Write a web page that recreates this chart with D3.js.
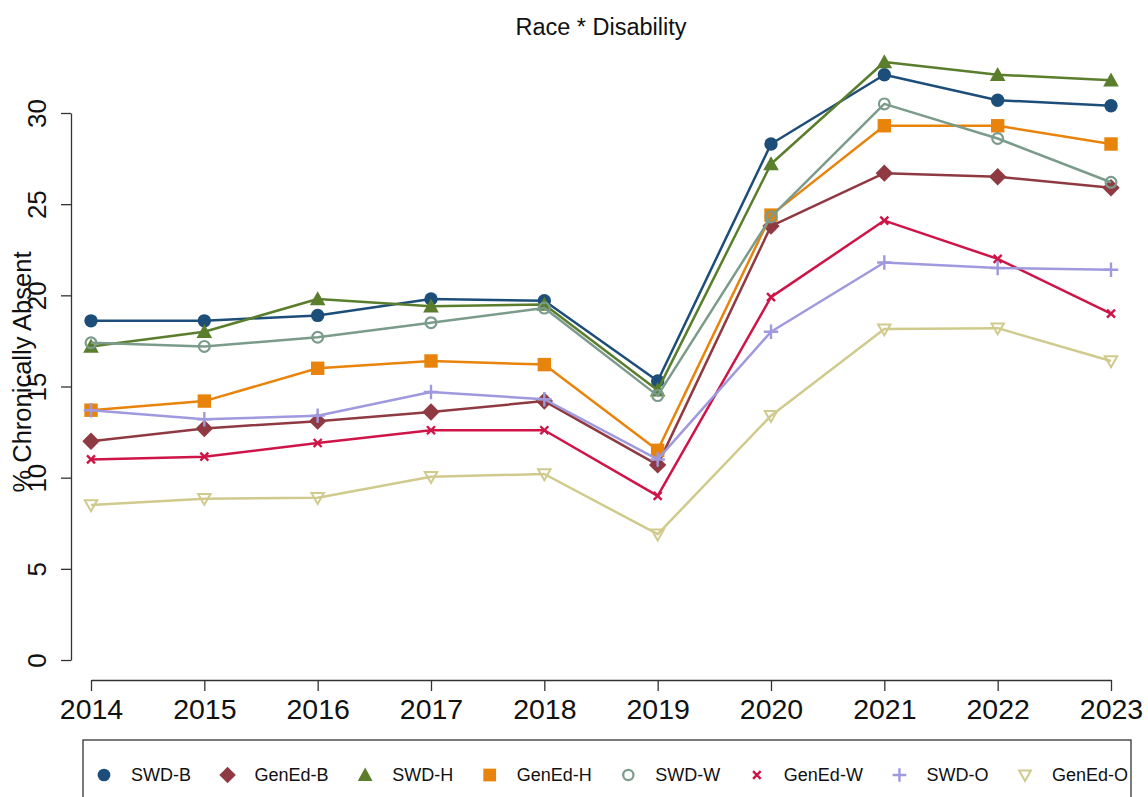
<!DOCTYPE html>
<html>
<head>
<meta charset="utf-8">
<script src="https://cdn.jsdelivr.net/npm/d3@7/dist/d3.min.js"></script>
<style>
  html, body { margin: 0; padding: 0; background: #fff; }
  svg { display: block; font-family: "Liberation Sans", Arial, Helvetica, sans-serif; }
</style>
</head>
<body>
<svg id="chart" width="1148" height="797"></svg>
<script>
// Chronic absence rates by race and disability status, 2014–2023
const years = [2014, 2015, 2016, 2017, 2018, 2019, 2020, 2021, 2022, 2023];
const seriesNames = ["SWD-B", "GenEd-B", "SWD-H", "GenEd-H", "SWD-W", "GenEd-W", "SWD-O", "GenEd-O"];

const swdB   = [18.6, 18.6, 18.9, 19.8, 19.7, 15.3, 28.3, 32.1, 30.7, 30.4];
const genEdB = [12.0, 12.7, 13.1, 13.6, 14.2, 10.7, 23.8, 26.7, 26.5, 25.9];
const swdH   = [17.2, 18.0, 19.8, 19.4, 19.5, 14.8, 27.2, 32.8, 32.1, 31.8];
const genEdH = [13.7, 14.2, 16.0, 16.4, 16.2, 11.5, 24.4, 29.3, 29.3, 28.3];
const swdW   = [17.4, 17.2, 17.7, 18.5, 19.3, 14.5, 24.3, 30.5, 28.6, 26.2];
const genEdW = [11.0, 11.15, 11.9, 12.6, 12.6, 9.0, 19.9, 24.1, 22.0, 19.0];
const swdO   = [13.7, 13.2, 13.4, 14.7, 14.3, 11.0, 18.0, 21.8, 21.5, 21.4];
const genEdO = [8.5, 8.85, 8.9, 10.05, 10.2, 6.9, 13.4, 18.15, 18.2, 16.4];

const yTicks = [0, 5, 10, 15, 20, 25, 30];

const seriesValues = [swdB, genEdB, swdH, genEdH, swdW, genEdW, swdO, genEdO];
const colors = ["#1D4E7A", "#8F3A42", "#5A7E2C", "#E8830C", "#7B9B8B", "#CF1548", "#9F99DE", "#D1CA8D"];
const shapes = ["dot", "diamond", "triangle", "square", "ring", "cross", "plus", "downTriangle"];

const svg = d3.select("#chart");

const x = d3.scaleLinear().domain([years[0], years[years.length - 1]]).range([91, 1111]);
const y = d3.scaleLinear().domain([0, 30]).range([660, 113]);

// Title
svg.append("text")
  .attr("x", 601).attr("y", 35)
  .attr("text-anchor", "middle")
  .attr("font-size", 23.5)
  .attr("fill", "#111")
  .text("Race * Disability");

// Y axis (base R style: axis line spans first to last tick, rotated labels)
const yAxis = svg.append("g")
  .attr("transform", "translate(71,0)")
  .call(d3.axisLeft(y).tickValues(yTicks).tickSize(10).tickSizeOuter(0).tickFormat(d3.format("d")));
yAxis.selectAll("path, line").attr("stroke", "#333").attr("stroke-width", 1.3);
yAxis.selectAll("text")
  .attr("font-size", 26)
  .attr("fill", "#111")
  .attr("text-anchor", "middle")
  .attr("dy", null)
  .attr("x", null)
  .attr("dominant-baseline", "central")
  .attr("transform", "translate(-34,0) rotate(-90)");

// X axis
const xAxis = svg.append("g")
  .attr("transform", "translate(0,680)")
  .call(d3.axisBottom(x).tickValues(years).tickSize(11).tickSizeOuter(0).tickFormat(d3.format("d")));
xAxis.selectAll("path, line").attr("stroke", "#333").attr("stroke-width", 1.3);
xAxis.selectAll("text")
  .attr("font-size", 28.5)
  .attr("fill", "#111")
  .attr("y", 19)
  .attr("dy", "0.71em");

// Y axis title
svg.append("text")
  .attr("transform", "translate(31,372) rotate(-90)")
  .attr("text-anchor", "middle")
  .attr("font-size", 25.5)
  .attr("fill", "#111")
  .text("% Chronically Absent");

// Marker drawing
function drawMarker(g, shape, color, cx, cy, scale) {
  const s = scale || 1;
  switch (shape) {
    case "dot":
      g.append("circle").attr("cx", cx).attr("cy", cy).attr("r", 6.7 * s).attr("fill", color);
      break;
    case "diamond": {
      const r = 8.7 * s;
      g.append("path").attr("d", `M${cx},${cy - r}L${cx + r},${cy}L${cx},${cy + r}L${cx - r},${cy}Z`).attr("fill", color);
      break;
    }
    case "triangle": {
      const h = 7.8 * s;
      g.append("path").attr("d", `M${cx},${cy - h}L${cx + h},${cy + h * 0.8}L${cx - h},${cy + h * 0.8}Z`).attr("fill", color);
      break;
    }
    case "square": {
      const r = 6.7 * s;
      g.append("rect").attr("x", cx - r).attr("y", cy - r).attr("width", 2 * r).attr("height", 2 * r).attr("fill", color);
      break;
    }
    case "ring":
      g.append("circle").attr("cx", cx).attr("cy", cy).attr("r", 5.4 * s)
        .attr("fill", "none").attr("stroke", color).attr("stroke-width", 2.2);
      break;
    case "cross": {
      const r = 4 * s;
      g.append("path").attr("d", `M${cx - r},${cy - r}L${cx + r},${cy + r}M${cx - r},${cy + r}L${cx + r},${cy - r}`)
        .attr("stroke", color).attr("stroke-width", 2.4).attr("fill", "none");
      break;
    }
    case "plus": {
      const r = 7.2 * s;
      g.append("path").attr("d", `M${cx - r},${cy}L${cx + r},${cy}M${cx},${cy - r}L${cx},${cy + r}`)
        .attr("stroke", color).attr("stroke-width", 2.4).attr("fill", "none");
      break;
    }
    case "downTriangle": {
      const h = 6.2 * s;
      g.append("path").attr("d", `M${cx},${cy + h}L${cx + h},${cy - h * 0.75}L${cx - h},${cy - h * 0.75}Z`)
        .attr("stroke", color).attr("stroke-width", 2).attr("fill", "none");
      break;
    }
  }
}

// Series lines and markers
const line = d3.line().x((d, i) => x(years[i])).y(d => y(d));
seriesValues.forEach((vals, k) => {
  const g = svg.append("g");
  g.append("path")
    .attr("d", line(vals))
    .attr("fill", "none")
    .attr("stroke", colors[k])
    .attr("stroke-width", 2.5)
    .attr("stroke-linejoin", "round");
  vals.forEach((v, i) => drawMarker(g, shapes[k], colors[k], x(years[i]), y(v)));
});

// Legend: one horizontal row inside a box, entries spaced by their label widths;
// text running past the right edge is clipped by the box
const legendLeft = 83, legendRight = 1131, legendTop = 740;
svg.append("defs").append("clipPath").attr("id", "legendClip")
  .append("rect").attr("x", legendLeft).attr("y", legendTop).attr("width", legendRight - legendLeft).attr("height", 100);
const legend = svg.append("g");
const legendItems = legend.append("g").attr("clip-path", "url(#legendClip)");
const ly = 775;
const legendFont = 18;
const firstMarker = 104, lastMarker = 1025, textOffset = 27;
const widths = seriesNames.map(n => {
  const t = legendItems.append("text").attr("font-size", legendFont).text(n);
  const w = t.node().getComputedTextLength();
  t.remove();
  return w;
});
const sumW = d3.sum(widths.slice(0, seriesNames.length - 1));
const gap = (lastMarker - firstMarker - (seriesNames.length - 1) * textOffset - sumW) / (seriesNames.length - 1);
let mx = firstMarker;
seriesNames.forEach((n, k) => {
  drawMarker(legendItems, shapes[k], colors[k], mx, ly, 0.95);
  legendItems.append("text")
    .attr("x", mx + textOffset).attr("y", ly)
    .attr("dominant-baseline", "central")
    .attr("font-size", legendFont)
    .attr("fill", "#111")
    .text(n);
  mx += textOffset + widths[k] + gap;
});
legend.append("rect")
  .attr("x", legendLeft).attr("y", legendTop)
  .attr("width", legendRight - legendLeft).attr("height", 80)
  .attr("fill", "none").attr("stroke", "#333").attr("stroke-width", 1.3);
</script>
</body>
</html>
